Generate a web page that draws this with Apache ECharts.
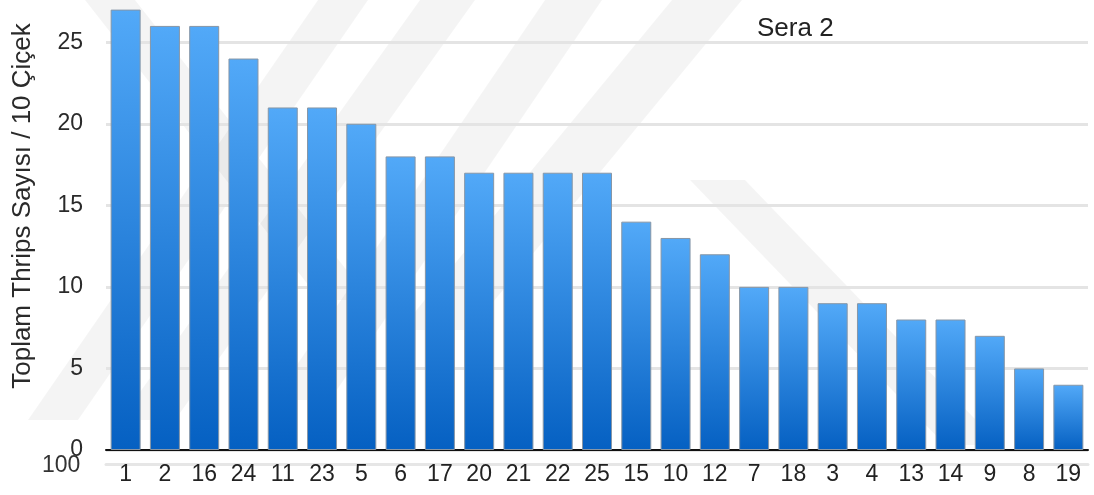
<!DOCTYPE html>
<html>
<head>
<meta charset="utf-8">
<script src="https://cdn.jsdelivr.net/npm/echarts@6/dist/echarts.min.js"></script>
<style>
html, body { margin: 0; padding: 0; background: #fff; }
#chart { width: 1094px; height: 495px; }
</style>
</head>
<body>
<div id="chart"></div>
<script>
// sera 2: toplam thrips sayisi, buyukten kucuge
const categories = ['1', '2', '16', '24', '11', '23', '5', '6', '17', '20', '21', '22', '25',
    '15', '10', '12', '7', '18', '3', '4', '13', '14', '9', '8', '19']
const thripsCounts = [27, 26, 26, 24, 21, 21, 20, 18, 18, 17, 17, 17, 17,
    14, 13, 12, 10, 10, 9, 9, 8, 8, 7, 5, 4]
const chartTitle = 'Sera 2'
const yTitle = 'Toplam Thrips Sayısı / 10 Çiçek'
const strayLabel = '100' // the overlapping "100" under the 0 label in the original

const font = 'Liberation Sans, Arial, Helvetica, sans-serif'
const wmColor = 'rgba(0,0,0,0.045)'

// faint watermark bands behind the plot
function band(points) {
    return {
        type: 'polygon',
        silent: true,
        z: -10,
        shape: { points: points },
        style: { fill: wmColor }
    }
}

const myChart = echarts.init(document.getElementById('chart'))
myChart.setOption({
    animation: false,
    title: {
        text: chartTitle,
        left: 752,
        top: 11,
        textStyle: { fontFamily: font, fontSize: 26, fontWeight: 'normal', color: '#222' }
    },
    graphic: [
        band([[85, 0], [135, 0], [370, 300], [320, 300]]),
        band([[318, 0], [368, 0], [78, 420], [28, 420]]),
        band([[420, 0], [475, 0], [175, 420], [120, 420]]),
        band([[545, 0], [602, 0], [330, 400], [273, 400]]),
        band([[672, 0], [742, 0], [470, 330], [400, 330]]),
        band([[690, 180], [745, 180], [1000, 445], [945, 445]]),
        {
            type: 'text',
            silent: true,
            left: 42,
            top: 454,
            style: { text: strayLabel, fontFamily: font, fontSize: 23, fill: '#333' }
        },
        {
            // y axis title, centred where the original has it
            type: 'text',
            silent: true,
            x: 23,
            y: 206,
            rotation: Math.PI / 2,
            style: {
                text: yTitle,
                fontFamily: font,
                fontSize: 26,
                fill: '#2a2a2a',
                align: 'center',
                verticalAlign: 'middle'
            }
        }
    ],
    grid: {
        left: 106,
        right: 6,
        top: 9.6,
        bottom: 45
    },
    xAxis: [{
        type: 'category',
        data: categories,
        axisLine: { lineStyle: { color: '#111', width: 2 } },
        axisTick: { show: false },
        axisLabel: { margin: 13, fontFamily: font, fontSize: 23, color: '#222' }
    }, {
        type: 'category',
        data: categories,
        position: 'bottom',
        offset: 14,
        axisLine: { lineStyle: { color: '#e6e6e6', width: 3 } },
        axisTick: { show: false },
        axisLabel: { show: false }
    }],
    yAxis: {
        type: 'value',
        min: 0,
        max: 27,
        interval: 5,
        axisLine: { show: false },
        axisTick: { show: false },
        axisLabel: { margin: 23, fontFamily: font, fontSize: 23, color: '#2a2a2a', showMaxLabel: false },
        splitLine: { showMaxLine: false, lineStyle: { color: '#e4e4e4', width: 3 } }
    },
    series: [{
        type: 'bar',
        data: thripsCounts,
        barWidth: 30,
        itemStyle: {
            borderColor: '#8796a6',
            borderWidth: 1,
            color: {
                type: 'linear',
                x: 0, y: 0, x2: 0, y2: 1,
                colorStops: [
                    { offset: 0, color: '#52a9f8' },
                    { offset: 1, color: '#0560c2' }
                ]
            }
        }
    }]
})
</script>
</body>
</html>
